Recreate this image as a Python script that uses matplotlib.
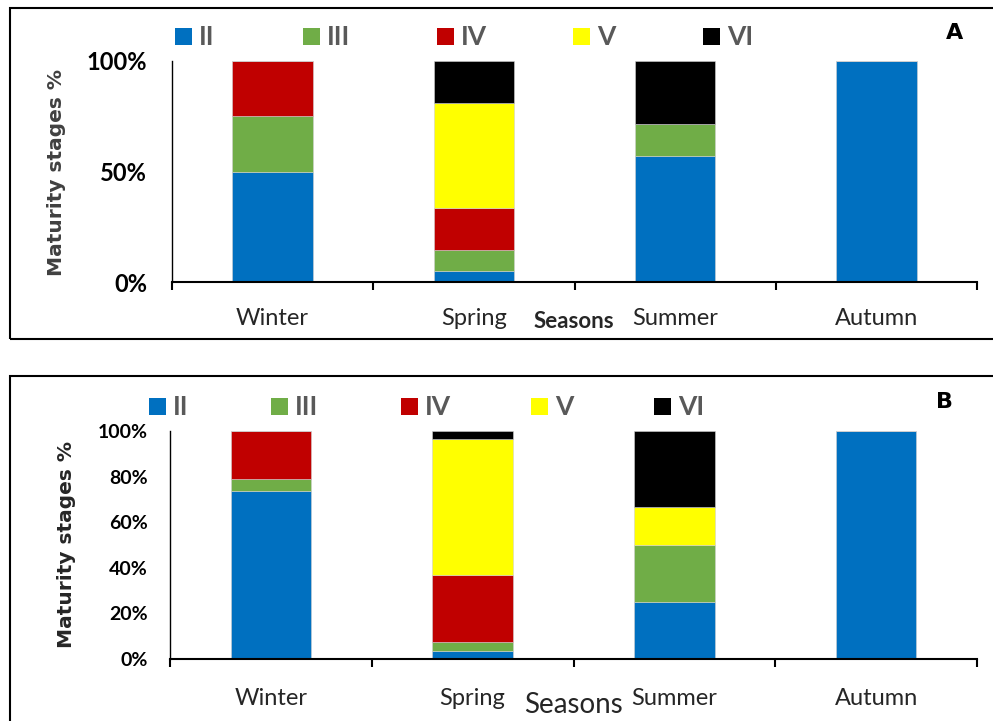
import matplotlib.pyplot as plt
from matplotlib.patches import Rectangle
from matplotlib.ticker import FixedLocator, PercentFormatter

W, H = 993, 721

seasons = ["Winter", "Spring", "Summer", "Autumn"]
stages = ["II", "III", "IV", "V", "VI"]
colors = ["#0070C0", "#70AD47", "#C00000", "#FFFF00", "#000000"]

# panel A, % of each stage per season
a_II = [50.0, 4.8, 57.1, 100.0]
a_III = [25.0, 9.5, 14.3, 0.0]
a_IV = [25.0, 19.0, 0.0, 0.0]
a_V = [0.0, 47.6, 0.0, 0.0]
a_VI = [0.0, 19.1, 28.6, 0.0]

# panel B
b_II = [73.7, 3.7, 25.0, 100.0]
b_III = [5.3, 3.7, 25.0, 0.0]
b_IV = [21.0, 29.6, 0.0, 0.0]
b_V = [0.0, 59.3, 16.7, 0.0]
b_VI = [0.0, 3.7, 33.3, 0.0]

a_ticks = [0, 50, 100]
b_ticks = [0, 20, 40, 60, 80, 100]


def fx(x):
    return x / W


def fy(y):
    return 1 - y / H


fig = plt.figure(figsize=(W / 100, H / 100), dpi=100)

# frames round the two panels
fig.patches.append(Rectangle((fx(10), fy(339)), 1.2, fy(8) - fy(339), transform=fig.transFigure,
                             fill=False, edgecolor="black", linewidth=1.5, clip_on=False))
fig.patches.append(Rectangle((fx(10), -0.2), 1.2, fy(376) + 0.2, transform=fig.transFigure,
                             fill=False, edgecolor="black", linewidth=1.5, clip_on=False))


def panel(rect, series, yticks, ytick_size, ypad, xpad):
    ax = fig.add_axes(rect)
    x = list(range(len(seasons)))
    bottom = [0.0] * len(seasons)
    for vals, col in zip(series, colors):
        ax.bar(x, vals, 0.4, bottom=bottom, color=col, edgecolor="#d0d0d0", linewidth=0.4)
        bottom = [b + v for b, v in zip(bottom, vals)]
    ax.set_xlim(-0.5, 3.5)
    ax.set_ylim(0, 100)
    ax.set_yticks(yticks)
    ax.yaxis.set_major_formatter(PercentFormatter(decimals=0))
    ax.set_xticks(x)
    ax.set_xticklabels(seasons, family="Lato", fontsize=17, color="#262626")
    ax.xaxis.set_minor_locator(FixedLocator([-0.5, 0.5, 1.5, 2.5, 3.5]))
    ax.tick_params(axis="x", which="major", length=0, pad=xpad)
    ax.tick_params(axis="x", which="minor", length=6, width=1.5, direction="out")
    ax.tick_params(axis="y", length=0, pad=ypad)
    for lab in ax.get_yticklabels():
        lab.set_family("Lato")
        lab.set_fontweight("bold")
        lab.set_fontsize(ytick_size)
    ax.spines["top"].set_visible(False)
    ax.spines["right"].set_visible(False)
    ax.spines["left"].set_linewidth(1.0)
    ax.spines["bottom"].set_linewidth(1.5)
    return ax


ax_a = panel([fx(172), fy(282), fx(977) - fx(172), fy(61) - fy(282)],
             [a_II, a_III, a_IV, a_V, a_VI], a_ticks, 17, 18, 19)
ax_b = panel([fx(170), fy(659), fx(977) - fx(170), fy(431) - fy(659)],
             [b_II, b_III, b_IV, b_V, b_VI], b_ticks, 14, 16, 21)

# axis titles
fig.text(fx(56), fy(172), "Maturity stages %", rotation=90, ha="center", va="center",
         fontsize=14.5, fontweight="bold", color="#404040")
fig.text(fx(66), fy(545), "Maturity stages %", rotation=90, ha="center", va="center",
         fontsize=14.5, fontweight="bold", color="#262626")
fig.text(fx(574), fy(322), "Seasons", ha="center", va="center", family="Lato",
         fontsize=16, fontweight="bold", color="#262626")
fig.text(fx(573), fy(705), "Seasons", ha="center", va="center", family="Lato",
         fontsize=20, color="#262626")

# panel letters
fig.text(fx(955), fy(33), "A", ha="center", va="center", fontsize=16, fontweight="bold")
fig.text(fx(944), fy(402), "B", ha="center", va="center", fontsize=16, fontweight="bold")

# legends
a_leg = [175, 303, 437, 573, 703]
b_leg = [149, 271, 401, 531, 654]
for xs, yc in [(a_leg, 37), (b_leg, 407)]:
    for x0, lab, col in zip(xs, stages, colors):
        fig.patches.append(Rectangle((fx(x0), fy(yc + 8)), 17 / W, 17 / H,
                                     transform=fig.transFigure, facecolor=col, edgecolor="none"))
        fig.text(fx(x0 + 24), fy(yc), lab, ha="left", va="center", family="Lato",
                 fontsize=19, fontweight="bold", color="#595959")

fig.savefig("out.png", dpi=100)
